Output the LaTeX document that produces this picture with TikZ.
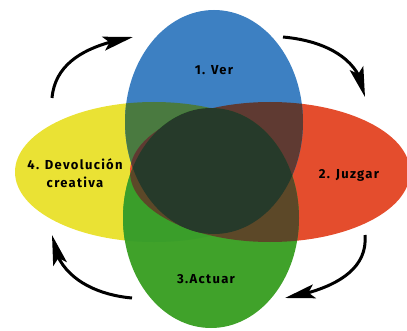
\documentclass[tikz,border=0pt]{standalone}
\usepackage{fontspec}
\setmainfont{Fira Sans}
\usetikzlibrary{arrows.meta,bending}
\definecolor{verblue}{RGB}{61,128,194}
\definecolor{juzred}{RGB}{228,77,45}
\definecolor{actgreen}{RGB}{64,162,42}
\definecolor{devyellow}{RGB}{234,226,52}
\definecolor{vdcol}{RGB}{74,122,64}
\definecolor{vjcol}{RGB}{95,58,50}
\definecolor{adcol}{RGB}{58,158,42}
\definecolor{ajcol}{RGB}{92,72,40}
\definecolor{midcol}{RGB}{38,58,42}
\newcommand\devshape{(154,158) ellipse [x radius=139, y radius=70]}
\newcommand\juzshape{(270,158) ellipse [x radius=140, y radius=70]}
\newcommand\vershape{(214,208) ellipse [x radius=89, y radius=112]}
\newcommand\actshape{(211,112) ellipse [x radius=88, y radius=110]}

\begin{document}
\begin{tikzpicture}[x=1pt,y=1pt,
    lbl/.style={font=\fontsize{13}{18}\selectfont\bfseries\addfontfeature{LetterSpace=10},align=center},
    turn/.style={line width=3pt,-{Stealth[length=30pt,width=14pt,inset=6pt,flex]}}]
      \useasboundingbox (0,0) rectangle (407,330);

      % the four circles of the method
      \fill[devyellow] \devshape;
      \fill[juzred] \juzshape;
      \fill[verblue] \vershape;
      \fill[actgreen] \actshape;

      % overlaps
      \begin{scope}
        \clip \devshape;
        \fill[vdcol] \vershape;
        \fill[adcol] \actshape;
      \end{scope}
      \begin{scope}
        \clip \juzshape;
        \fill[vjcol] \vershape;
        \fill[ajcol] \actshape;
      \end{scope}
      \begin{scope}
        \clip \vershape;
        \fill[midcol] \actshape;
      \end{scope}

      \node[lbl] (ver) at (214,260) {1. Ver};
      \node[lbl] (juzgar) at (349,155) {2. Juzgar};
      \node[lbl] (actuar) at (206,51) {3.Actuar};
      \node[lbl] (devol) at (75,157) {4. Devolución\\creativa};

      \coordinate (tl1) at (52,232);
      \coordinate (tl2) at (133,293);
      \coordinate (tr1) at (283,293);
      \coordinate (tr2) at (365,233);
      \coordinate (br1) at (365,95);
      \coordinate (br2) at (285,32);
      \coordinate (bl1) at (132,32);
      \coordinate (bl2) at (52,95);

      \draw[turn] (tl1) to[out=85,in=190] (tl2);
      \draw[turn] (tr1) to[out=-5,in=95] (tr2);
      \draw[turn] (br1) to[out=-85,in=10] (br2);
      \draw[turn] (bl1) to[out=175,in=-85] (bl2);
    \end{tikzpicture}
\end{document}
